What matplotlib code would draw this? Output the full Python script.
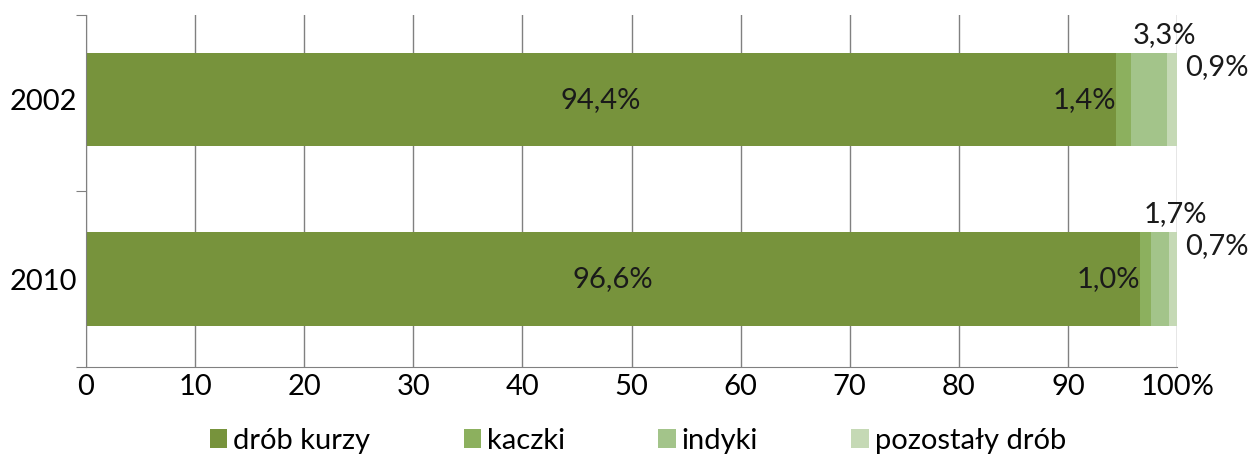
import numpy as np
import matplotlib
matplotlib.use('Agg')
from matplotlib import pyplot
from matplotlib.patches import Patch

pyplot.rcParams['font.family'] = ['Lato', 'DejaVu Sans']

# data (percent shares of poultry)
years = ['2002', '2010']
series_names = ['drób kurzy', 'kaczki', 'indyki', 'pozostały drób']
drob_kurzy = [94.4, 96.6]
kaczki = [1.4, 1.0]
indyki = [3.3, 1.7]
pozostaly = [0.9, 0.7]
x_ticks = [0, 10, 20, 30, 40, 50, 60, 70, 80, 90, 100]
x_labels = ['0', '10', '20', '30', '40', '50', '60', '70', '80', '90', '100%']

colorset = ['#77933C', '#8CB05E', '#A3C48A', '#C5D9B5']
fs = 21

fig = pyplot.figure(figsize=(12.51, 4.59), dpi=100)
ax = fig.add_axes([0.0687, 0.2004, 0.8722, 0.7666])

ypos = np.array([1.02, 0])  # 2002 on top
values = [drob_kurzy, kaczki, indyki, pozostaly]
left = np.zeros(len(years))
for vals, col in zip(values, colorset):
    ax.barh(ypos, vals, left=left, height=0.53, color=col, zorder=2)
    left += np.array(vals)

def fmt(v):
    return f"{v:.1f}%".replace('.', ',')

for i, y in enumerate(ypos):
    # drób kurzy - centered
    ax.text(drob_kurzy[i] / 2, y, fmt(drob_kurzy[i]), ha='center', va='center', fontsize=fs, color='#1a1a1a', zorder=3)
    # kaczki - right aligned at segment start
    start = drob_kurzy[i]
    ax.text(start, y, fmt(kaczki[i]), ha='right', va='center', fontsize=fs, color='#1a1a1a', zorder=3)
    # indyki - above bar
    mid = drob_kurzy[i] + kaczki[i] + indyki[i] / 2
    ax.annotate(fmt(indyki[i]), xy=(mid, y + 0.265), xytext=(15, 18), textcoords='offset pixels',
                ha='center', va='center', fontsize=fs, color='#1a1a1a')
    # pozostały - right of bar
    ax.annotate(fmt(pozostaly[i]), xy=(100, y + 0.265), xytext=(8, -14), textcoords='offset pixels',
                ha='left', va='center', fontsize=fs, color='#1a1a1a', annotation_clip=False)

ax.set_xlim(0, 100)
ax.set_ylim(-0.5, 1.5)
ax.set_xticks(x_ticks)
ax.set_xticklabels(x_labels, fontsize=fs)
ax.set_yticks([-0.5, 0.5, 1.5])
ax.set_yticklabels([])
ax.set_yticks(ypos, minor=True)
ax.set_yticklabels(years, minor=True, fontsize=fs)
ax.tick_params(axis='y', which='minor', length=0, pad=6)
ax.tick_params(axis='y', which='major', length=7, color='#808080')
ax.tick_params(axis='x', length=0, pad=5)
ax.grid(axis='x', color='#808080', linewidth=1, zorder=0)
ax.set_axisbelow(True)
for s in ['top', 'right']:
    ax.spines[s].set_visible(False)
for s in ['left', 'bottom']:
    ax.spines[s].set_color('#808080')

handles = [Patch(facecolor=c, edgecolor='none') for c in colorset]
fig.legend(handles, series_names, loc='center', bbox_to_anchor=(0.51, 0.04), ncol=4, frameon=False,
           fontsize=fs, handlelength=0.6, handleheight=0.6, handletextpad=0.2, columnspacing=3.2)

fig.savefig('out.png', dpi=100)
pyplot.close()
